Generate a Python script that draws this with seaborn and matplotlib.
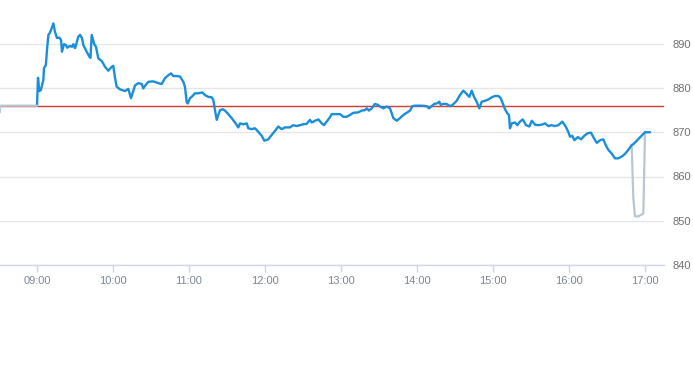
import matplotlib
matplotlib.use("Agg")
import matplotlib.pyplot as plt
import seaborn as sns
import pandas as pd
import numpy as np

# ---- data (minutes after 09:00, price) ----
blue_minutes = [0, 0.8, 1.8, 3, 5, 5.5, 7, 8, 9, 10,
    11.6, 12.9, 14.2, 15.8, 17.6, 19, 19.7, 21.3, 22.9, 23.9,
    26, 27.6, 28.7, 30, 30.8, 32.6, 34, 35.5, 36.6, 39.2,
    41.3, 42.2, 43.2, 45.2, 46.6, 48.4, 51.1, 53.7, 56.3, 59,
    60.2, 61.6, 62.9, 65.5, 69.5, 72.1, 74.2, 75.4, 77.4, 80,
    82.7, 83.9, 85.3, 87.9, 91.8, 95.8, 98.4, 101, 103.7, 105.8,
    107.6, 110.3, 112.9, 115.5, 116.8, 118.2, 119, 120.8, 122.1, 124.7,
    127.3, 130.5, 132.6, 135.2, 137.9, 139.2, 140.5, 141.9, 143.1, 144.5,
    146.6, 148.4, 151, 153.7, 156.3, 158.9, 160.3, 162.9, 165.6, 166.8,
    169.5, 172.1, 174.7, 177.4, 179.5, 182.6, 185.3, 187.9, 190.5, 193.2,
    195.8, 199.7, 202.3, 205, 207.6, 210.2, 212.9, 215.5, 216.9, 219.5,
    222.1, 224.8, 226.6, 228.7, 231.3, 232.7, 236.6, 239.2, 241.8, 244.5,
    247.1, 249.7, 253.7, 256.4, 258.9, 260.3, 262.1, 264.2, 266.8, 269,
    270.8, 273.4, 276.1, 278.7, 280, 281.3, 284, 286.6, 289.2, 291.9,
    294.5, 296.3, 298.4, 303.7, 307.6, 309.5, 311.6, 313.6, 315.6, 317.6,
    318.7, 320.8, 323.4, 326.1, 328.2, 331.3, 333.9, 336.6, 338.7, 341.3,
    343.2, 345, 347.1, 349.2, 351.1, 353.7, 356.3, 359, 361.6, 364.2,
    366.1, 367.7, 369.5, 371.3, 372.6, 373.4, 374.8, 377.4, 379.2, 381.3,
    383.5, 386.1, 388.7, 390.6, 393.2, 395.8, 398.4, 401.1, 403.7, 406.3,
    409, 411.6, 414.7, 417.4, 419.4, 420.8, 422.6, 424.2, 426.9, 429.5,
    432.1, 434.8, 437.4, 439.2, 441.9, 444.5, 447.1, 449, 451.1, 453.7,
    456.3, 458.9, 461.6, 464.2, 466.8, 469.5, 470.8, 480, 484]

blue_prices = [876.0, 882.3, 879.3, 879.5, 881.8, 884.5, 885.2, 889.0, 892.0, 892.4,
    893.5, 894.6, 892.7, 891.3, 891.4, 890.8, 888.2, 889.9, 889.7, 889.1,
    889.5, 889.3, 889.9, 889.0, 889.7, 891.6, 892.0, 891.3, 889.7, 888.2,
    887.1, 886.8, 892.0, 889.9, 889.3, 886.7, 886.1, 884.8, 883.9, 884.8,
    885.0, 882.3, 880.3, 879.7, 879.3, 879.8, 877.7, 878.8, 880.6, 881.1,
    880.9, 879.9, 880.5, 881.4, 881.5, 881.1, 880.9, 882.2, 882.9, 883.3,
    882.7, 882.7, 882.6, 881.4, 880.3, 876.8, 876.5, 877.7, 878.0, 878.8,
    878.8, 879.0, 878.4, 878.0, 877.9, 877.3, 875.0, 872.8, 873.9, 875.0,
    875.2, 874.9, 874.1, 873.2, 872.2, 871.1, 872.0, 871.8, 872.0, 870.9,
    870.7, 870.9, 870.1, 869.2, 868.1, 868.4, 869.4, 870.3, 871.3, 870.7,
    871.1, 871.1, 871.6, 871.4, 871.6, 871.8, 871.9, 872.8, 872.2, 872.6,
    872.9, 872.0, 871.6, 872.4, 873.4, 874.1, 874.1, 874.1, 873.5, 873.5,
    873.9, 874.4, 874.5, 874.9, 875.0, 875.4, 874.9, 875.4, 876.4, 876.2,
    875.8, 875.4, 875.8, 875.4, 874.3, 873.2, 872.6, 873.2, 873.9, 874.4,
    874.9, 875.9, 876.0, 876.0, 875.9, 875.4, 875.9, 876.4, 876.5, 876.9,
    876.2, 876.4, 876.4, 875.9, 876.2, 877.1, 878.4, 879.4, 878.8, 878.0,
    879.4, 878.0, 876.9, 875.4, 876.9, 877.1, 877.4, 877.9, 878.2, 878.2,
    877.7, 876.5, 875.2, 874.3, 873.9, 870.9, 872.0, 872.2, 871.6, 872.4,
    872.9, 871.6, 871.3, 872.6, 871.7, 871.6, 871.7, 872.0, 871.4, 871.6,
    871.4, 871.6, 872.4, 871.3, 870.1, 869.0, 869.2, 868.2, 868.9, 868.4,
    869.2, 869.8, 869.9, 868.9, 867.6, 868.2, 868.4, 867.1, 866.0, 865.2,
    864.1, 864.1, 864.5, 865.1, 866.0, 867.1, 867.3, 870.0, 870.0]

pre_minutes = [-29.3, -29.1, 0]
pre_prices = [874.5, 876.0, 876.0]

post_minutes = [469.5, 470.8, 472.1, 474.7, 478.7, 480.0]
post_prices = [867.1, 855.1, 851.0, 851.0, 851.6, 870.1]

prev_close = 876.0

tick_minutes = [0, 60, 120, 180, 240, 300, 360, 420, 480]
tick_labels = ["09:00", "10:00", "11:00", "12:00", "13:00", "14:00", "15:00", "16:00", "17:00"]
y_ticks = [840, 850, 860, 870, 880, 890]

# ---- figure ----
sns.set_style("white")
plt.rcParams['font.family'] = ['Liberation Sans', 'DejaVu Sans']

W, H = 693, 365
fig = plt.figure(figsize=(W / 100, H / 100), dpi=100)
ax_left, ax_right, ax_bottom, ax_top = 0, 664, 265, 10
ax = fig.add_axes([ax_left / W, (H - ax_bottom) / H,
                   (ax_right - ax_left) / W, (ax_bottom - ax_top) / H])

blue_df = pd.DataFrame({"t": blue_minutes, "p": blue_prices})
pre_df = pd.DataFrame({"t": pre_minutes, "p": pre_prices})
post_df = pd.DataFrame({"t": post_minutes, "p": post_prices})

gray = "#b8c7d2"
blue = "#1a8edb"

ax.axhline(prev_close, color="#d23a2e", linewidth=1.0, zorder=3)
sns.lineplot(data=pre_df, x="t", y="p", ax=ax, color=gray, linewidth=1.6,
             estimator=None, sort=False, zorder=6)
sns.lineplot(data=post_df, x="t", y="p", ax=ax, color=gray, linewidth=1.6,
             estimator=None, sort=False, zorder=4)
sns.lineplot(data=blue_df, x="t", y="p", ax=ax, color=blue, linewidth=1.7,
             estimator=None, sort=False, zorder=5)

# scales
x_per_min = 76 / 60.0
xmin = -(37 - ax_left) / x_per_min
xmax = (ax_right - 37) / x_per_min
ax.set_xlim(xmin, xmax)
px_per_unit = 4.425
ax.set_ylim(840, 840 + (ax_bottom - ax_top) / px_per_unit)

ax.set_xticks(tick_minutes)
ax.set_xticklabels(tick_labels)
ax.set_yticks(y_ticks)
ax.set_yticklabels([str(v) for v in y_ticks])
ax.yaxis.tick_right()
ax.set_xlabel("")
ax.set_ylabel("")

ax.grid(axis="y", color="#e6e6e6", linewidth=1.0, zorder=0)
ax.grid(axis="x", visible=False)
for s in ["top", "left", "right"]:
    ax.spines[s].set_visible(False)
ax.spines["bottom"].set_color("#ccd6eb")
ax.spines["bottom"].set_linewidth(1.0)
ax.spines["bottom"].set_zorder(1)

ax.tick_params(axis="x", length=5, width=1, color="#ccd6eb", pad=3,
               labelsize=8, labelcolor="#7d8792", bottom=True)
ax.tick_params(axis="y", length=0, pad=6, labelsize=8, labelcolor="#6f6f6f",
               right=True, left=False, labelright=True, labelleft=False)

fig.savefig("out.png", dpi=100)
